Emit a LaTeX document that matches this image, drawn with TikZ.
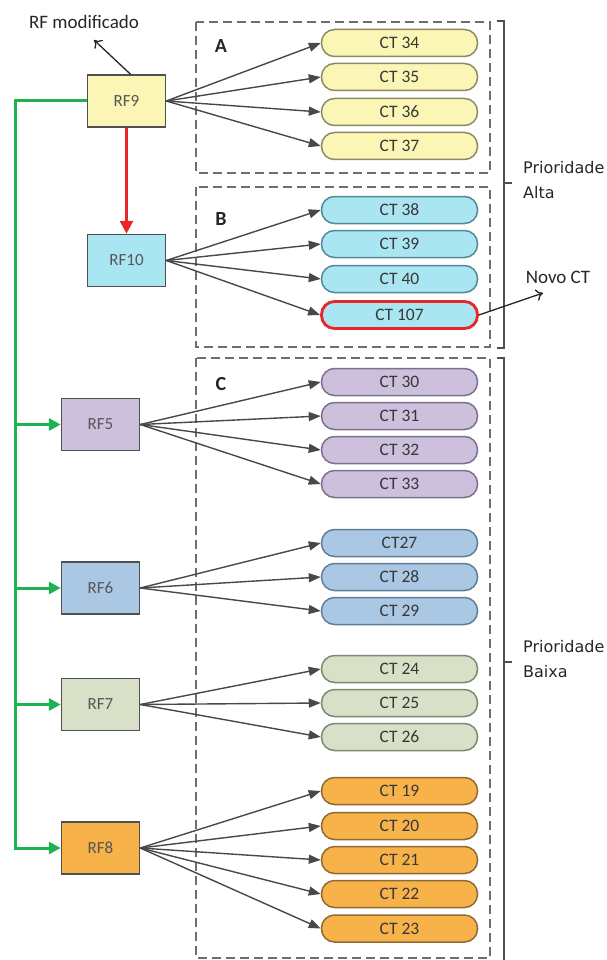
\documentclass[tikz,border=0pt]{standalone}
\usepackage{fontspec}
\setmainfont{Carlito}
\newfontfamily\priofont{DejaVu Sans}
\usetikzlibrary{arrows.meta}

\definecolor{boxline}{HTML}{505050}
\definecolor{fanline}{HTML}{484848}
\definecolor{dashgray}{HTML}{6E6E6E}
\definecolor{txtgray}{HTML}{383838}
\definecolor{linkgreen}{HTML}{1EB253}
\definecolor{linkred}{HTML}{E8262A}
% fills and outlines of the colour groups
\definecolor{yelfill}{HTML}{FBF6B6}\definecolor{yelline}{HTML}{8C8A62}
\definecolor{cyafill}{HTML}{AAE6F2}\definecolor{cyaline}{HTML}{4F8A96}
\definecolor{purfill}{HTML}{CCC0DC}\definecolor{purline}{HTML}{7C7090}
\definecolor{blufill}{HTML}{AAC8E4}\definecolor{bluline}{HTML}{5E7E98}
\definecolor{grnfill}{HTML}{D8E1C8}\definecolor{grnline}{HTML}{7E8870}
\definecolor{orafill}{HTML}{F8B24A}\definecolor{oraline}{HTML}{8E6A32}

\begin{document}
\begin{tikzpicture}[x=1pt,y=-1pt,
  rfbox/.style={draw=boxline, line width=1.5pt, minimum width=78pt,
    minimum height=52pt, inner sep=0pt, text=txtgray!85,
    font=\fontsize{17}{17}\selectfont},
  ctpill/.style={draw, line width=1.5pt, rounded corners=13pt,
    minimum width=156pt, minimum height=27pt, inner sep=0pt,
    text=txtgray, font=\fontsize{17.5}{17.5}\selectfont},
  fan/.style={draw=fanline, line width=1.4pt,
    -{Triangle[length=12pt,width=9pt]}},
  greenlink/.style={draw=linkgreen, line width=3pt},
  greenarrow/.style={greenlink, -{Triangle[length=12pt,width=12pt]}},
  dashbox/.style={draw=dashgray, line width=1.4pt, dash pattern=on 9pt off 5pt},
  bracket/.style={draw=boxline, line width=1.5pt},
  grouplabel/.style={font=\fontsize{20}{20}\selectfont\bfseries, text=black!85},
  note/.style={font=\fontsize{19}{19}\selectfont, text=black!85},
  prio/.style={font=\priofont\fontsize{16}{25}\selectfont, text=black!85,
    align=left, anchor=west, inner sep=0pt}
]
\useasboundingbox (0,0) rectangle (607,960);

% group frames
\draw[dashbox] (196,22) rectangle (490,173);
\draw[dashbox] (196,187) rectangle (490,347);
\draw[dashbox] (196,358) rectangle (490,958);
\node[grouplabel] (la) at (221,46) {A};
\node[grouplabel] (lb) at (221,219) {B};
\node[grouplabel] (lc) at (221,384) {C};

% priority brackets
\draw[bracket] (497,21) -- (504,21) -- (504,348) -- (497,348);
\draw[bracket] (504,183) -- (512,183);
\draw[bracket] (497,358) -- (504,358) -- (504,960);
\draw[bracket] (504,662) -- (512,662);
\node[prio] (pa) at (523,180) {Prioridade\\Alta};
\node[prio] (pb) at (523,659) {Prioridade\\Baixa};

% requirement boxes
\node[rfbox, fill=yelfill] (rf9)  at (126.5,101) {RF9};
\node[rfbox, fill=cyafill] (rf10) at (126.5,260.5) {RF10};
\node[rfbox, fill=purfill] (rf5)  at (100.5,424.5) {RF5};
\node[rfbox, fill=blufill] (rf6)  at (100.5,588) {RF6};
\node[rfbox, fill=grnfill] (rf7)  at (100.5,704.5) {RF7};
\node[rfbox, fill=orafill] (rf8)  at (100.5,848) {RF8};

% test cases
\foreach \n/\y in {34/43,35/77,36/112,37/146}
  \node[ctpill, fill=yelfill, draw=yelline] (ct\n) at (399.5,\y) {CT \n};
\foreach \n/\y in {38/210,39/244,40/279}
  \node[ctpill, fill=cyafill, draw=cyaline] (ct\n) at (399.5,\y) {CT \n};
\node[ctpill, fill=cyafill, draw=linkred, line width=2.8pt] (ct107) at (399.5,315) {CT 107};
\foreach \n/\y in {30/382,31/416,32/450,33/484}
  \node[ctpill, fill=purfill, draw=purline] (ct\n) at (399.5,\y) {CT \n};
\node[ctpill, fill=blufill, draw=bluline] (ct27) at (399.5,543) {CT27};
\foreach \n/\y in {28/577,29/611}
  \node[ctpill, fill=blufill, draw=bluline] (ct\n) at (399.5,\y) {CT \n};
\foreach \n/\y in {24/669,25/703,26/737}
  \node[ctpill, fill=grnfill, draw=grnline] (ct\n) at (399.5,\y) {CT \n};
\foreach \n/\y in {19/791,20/826,21/860,22/894,23/928.5}
  \node[ctpill, fill=orafill, draw=oraline] (ct\n) at (399.5,\y) {CT \n};

% requirement -> test case fans
\foreach \c in {34,35,36,37} \draw[fan] (rf9.east) -- (ct\c.west);
\foreach \c in {38,39,40,107} \draw[fan] (rf10.east) -- (ct\c.west);
\foreach \c in {30,31,32,33} \draw[fan] (rf5.east) -- (ct\c.west);
\foreach \c in {27,28,29} \draw[fan] (rf6.east) -- (ct\c.west);
\foreach \c in {24,25,26} \draw[fan] (rf7.east) -- (ct\c.west);
\foreach \c in {19,20,21,22,23} \draw[fan] (rf8.east) -- (ct\c.west);

% change propagation
\draw[draw=linkred, line width=3pt, -{Triangle[length=13pt,width=13pt]}] (rf9.south) -- (rf10.north);
\coordinate (gtop) at (15,101);
\coordinate (g5) at (15,424.5);
\coordinate (g6) at (15,588);
\coordinate (g7) at (15,704.5);
\coordinate (g8) at (15,848);
\draw[greenlink] (rf9.west) -- (gtop) -- (g8);
\draw[greenarrow] (g5) -- (rf5.west);
\draw[greenarrow] (g6) -- (rf6.west);
\draw[greenarrow] (g7) -- (rf7.west);
\draw[greenarrow] ([xshift=-1.5pt]g8) -- (rf8.west);

% annotations
\node[note] (mod) at (84,22) {RF modificado};
\coordinate (modtip) at (94,40);
\draw[draw=black!85, line width=1.3pt, -{To[length=7pt,width=12pt]}] ([xshift=4pt]rf9.north) -- (modtip);
\node[note] (novo) at (558,277) {Novo CT};
\coordinate (novotip) at (543,293);
\draw[draw=black!85, line width=1.3pt, -{To[length=7pt,width=12pt]}] (ct107.east) -- (novotip);
\end{tikzpicture}
\end{document}
